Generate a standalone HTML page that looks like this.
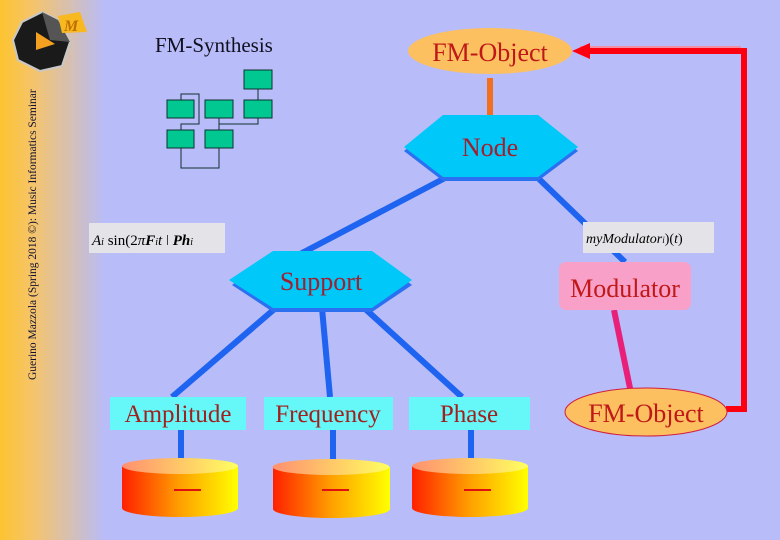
<!DOCTYPE html>
<html><head><meta charset="utf-8"><style>
html,body{margin:0;padding:0;}
body{width:780px;height:540px;overflow:hidden;background:#b8bcf8;}
svg{display:block;}
</style></head><body>
<svg width="780" height="540" viewBox="0 0 780 540" xmlns="http://www.w3.org/2000/svg" font-family="Liberation Serif, serif">
<defs>
<linearGradient id="side" x1="0" x2="1" y1="0" y2="0">
<stop offset="0" stop-color="#fcc430"/><stop offset="0.3" stop-color="#f6c468"/><stop offset="1" stop-color="#b8bcf8"/>
</linearGradient>
<linearGradient id="cyl" x1="0" x2="1" y1="0" y2="0">
<stop offset="0" stop-color="#ff2000"/><stop offset="0.5" stop-color="#ffa000"/><stop offset="1" stop-color="#ffff00"/>
</linearGradient>
<linearGradient id="cyltop" x1="0" x2="1">
<stop offset="0" stop-color="#ff9070"/><stop offset="1" stop-color="#ffff60"/>
</linearGradient>
</defs>
<rect x="0" y="0" width="780" height="540" fill="#b8bcf8"/>
<rect x="0" y="0" width="105" height="540" fill="url(#side)"/>
<!-- logo -->
<polygon points="22,22 42,12 58,20 70,42 62,66 40,71 18,60 13,40" fill="#1a1a1a" stroke="#c8c8c8" stroke-width="2"/>
<polygon points="42,12 58,20 70,42 50,40" fill="#555"/>
<polygon points="36,32 55,44 36,50" fill="#f5a020"/>
<polygon points="58,16 80,12 87,32 62,33" fill="#f8b820"/>
<text x="64" y="31" font-size="16" font-weight="bold" fill="#c07000" font-style="italic">M</text>
<text transform="translate(36,380) rotate(-90)" font-size="11.5" fill="#101030">Guerino Mazzola (Spring 2018 ©): Music Informatics Seminar</text>
<text x="155" y="52" font-size="21" fill="#101020">FM-Synthesis</text>
<!-- mini diagram -->
<g stroke="#103030" stroke-width="1" fill="none">
<polyline points="181,100 181,94 199,94 199,124 181,124 181,130"/>
<polyline points="258,89 258,100"/>
<polyline points="258,118 258,124 219,124"/>
<polyline points="219,118 219,130"/>
<polyline points="181,148 181,168 219,168 219,148"/>
</g>
<g fill="#00c890" stroke="#103030" stroke-width="1">
<rect x="244" y="70" width="28" height="19"/>
<rect x="167" y="100" width="27" height="18"/>
<rect x="205" y="100" width="28" height="18"/>
<rect x="244" y="100" width="28" height="18"/>
<rect x="167" y="130" width="27" height="18"/>
<rect x="205" y="130" width="28" height="18"/>
</g>
<!-- connectors -->
<g stroke="#1e64f0" stroke-width="6" fill="none">
<line x1="445" y1="178" x2="285" y2="262"/>
<line x1="538" y1="178" x2="625" y2="262"/>
<line x1="278" y1="306" x2="172" y2="397"/>
<line x1="322" y1="308" x2="330" y2="397"/>
<line x1="362" y1="306" x2="462" y2="397"/>
<line x1="181" y1="430" x2="181" y2="468"/>
<line x1="333" y1="430" x2="333" y2="468"/>
<line x1="471" y1="430" x2="471" y2="468"/>
</g>
<line x1="490" y1="78" x2="490" y2="116" stroke="#f07020" stroke-width="6"/>
<line x1="614" y1="310" x2="632" y2="398" stroke="#e8207a" stroke-width="6"/>
<!-- red feedback -->
<polyline points="580,48 741,48" stroke="#f090a8" stroke-width="4" fill="none"/>
<polyline points="580,51 744,51 744,409 726,409" stroke="#ff0010" stroke-width="6" fill="none"/>
<polygon points="572,51 590,43 590,59" fill="#ff0010"/>
<!-- FM-Object top -->
<ellipse cx="490" cy="51" rx="82" ry="23" fill="#fcc060"/>
<text x="490" y="61" font-size="26" fill="#c01818" text-anchor="middle">FM-Object</text>
<!-- Node hex -->
<polygon points="443,119 538,119 578,151 538,181 443,181 404,151" fill="#2a70f0"/>
<polygon points="443,115 538,115 578,147 538,177 443,177 404,147" fill="#00c8f8"/>
<text x="490" y="156" font-size="26" fill="#a02030" text-anchor="middle">Node</text>
<!-- formula boxes -->
<rect x="89" y="223" width="136" height="30" fill="#e4e4e8"/>
<text x="92" y="245" font-size="15" font-style="italic" fill="#000">A<tspan font-size="10">i</tspan> <tspan font-style="normal">sin(2</tspan>π<tspan font-weight="bold">F</tspan><tspan font-size="10">i</tspan>t  ǀ  <tspan font-weight="bold">Ph</tspan><tspan font-size="10">i</tspan></text>
<rect x="583" y="222" width="131" height="31" fill="#e4e4e8"/>
<text x="586" y="243" font-size="14" font-style="italic" fill="#000">myModulator<tspan font-size="9">i</tspan><tspan font-style="normal">)(</tspan>t<tspan font-style="normal">)</tspan></text>
<!-- Support hex -->
<polygon points="273,255 372,255 412,285 372,312 273,312 232,285" fill="#2a70f0"/>
<polygon points="273,251 372,251 412,280 372,308 273,308 229,280" fill="#00c8f8"/>
<text x="321" y="290" font-size="26" fill="#a02030" text-anchor="middle">Support</text>
<!-- Modulator -->
<rect x="559" y="262" width="132" height="48" rx="7" fill="#f8a0c8"/>
<text x="625" y="297" font-size="26" fill="#c01818" text-anchor="middle">Modulator</text>
<!-- leaf boxes -->
<rect x="110" y="397" width="136" height="33" fill="#66f8f8"/>
<text x="178" y="422" font-size="25" fill="#a02020" text-anchor="middle">Amplitude</text>
<rect x="264" y="397" width="129" height="33" fill="#66f8f8"/>
<text x="328" y="422" font-size="25" fill="#a02020" text-anchor="middle">Frequency</text>
<rect x="409" y="397" width="121" height="33" fill="#66f8f8"/>
<text x="469" y="422" font-size="25" fill="#a02020" text-anchor="middle">Phase</text>
<!-- bottom FM-Object -->
<ellipse cx="646" cy="412" rx="81" ry="24" fill="#fcc060" stroke="#d02040" stroke-width="1"/>
<text x="646" y="422" font-size="26" fill="#c01818" text-anchor="middle">FM-Object</text>
<!-- cylinders -->
<g>
<path d="M122,466 L122,508 A58,9 0 0 0 238,508 L238,466 Z" fill="url(#cyl)"/>
<ellipse cx="180" cy="466" rx="58" ry="8" fill="url(#cyltop)"/>
<path d="M273,467 L273,509 A58.5,9 0 0 0 390,509 L390,467 Z" fill="url(#cyl)"/>
<ellipse cx="331" cy="467" rx="58.5" ry="8" fill="url(#cyltop)"/>
<path d="M412,466 L412,508 A58,9 0 0 0 528,508 L528,466 Z" fill="url(#cyl)"/>
<ellipse cx="470" cy="466" rx="58" ry="8" fill="url(#cyltop)"/>
</g>
<g stroke="#e01010" stroke-width="2">
<line x1="174" y1="490" x2="201" y2="490"/>
<line x1="322" y1="490" x2="349" y2="490"/>
<line x1="464" y1="490" x2="491" y2="490"/>
</g>
</svg>
</body></html>
